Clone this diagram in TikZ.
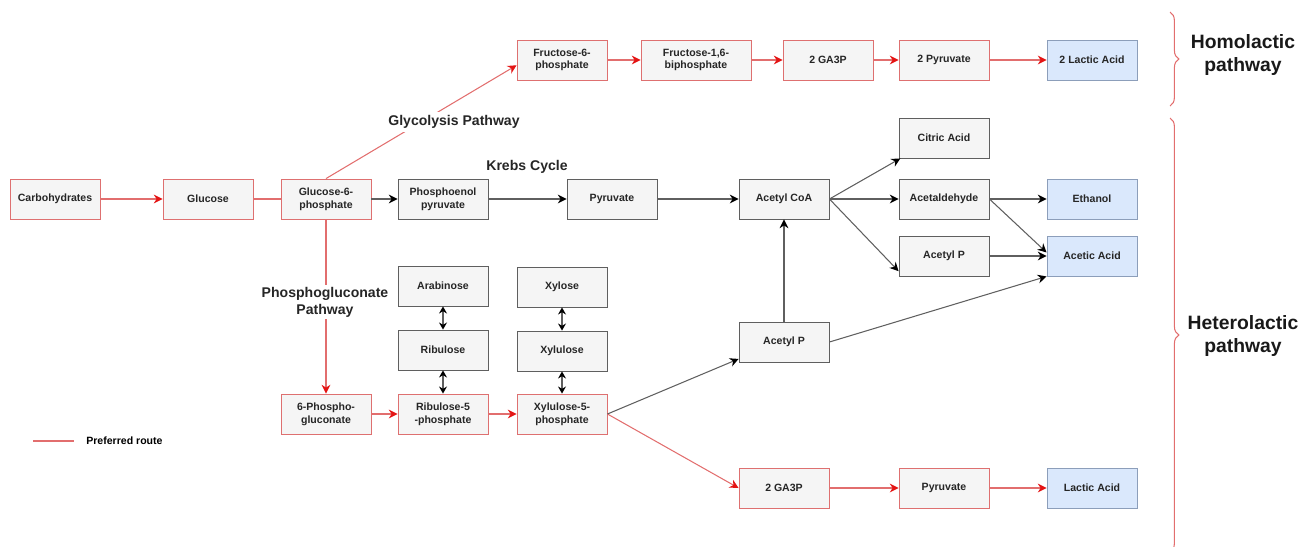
\documentclass[tikz,border=0pt]{standalone}
\usepackage{fontspec}
\setmainfont{Liberation Sans}
\usetikzlibrary{arrows.meta,shadows,decorations.pathreplacing,calc}
\definecolor{redline}{RGB}{226,110,110}
\definecolor{redtip}{RGB}{228,20,20}
\definecolor{redbox}{RGB}{222,112,112}
\definecolor{greyfill}{RGB}{245,245,245}
\definecolor{greyline}{RGB}{95,95,95}
\definecolor{bluefill}{RGB}{218,232,252}
\definecolor{blueline}{RGB}{140,158,186}
\begin{document}
\begin{tikzpicture}[x=0.2mm, y=-0.2mm, font=\fontsize{6pt}{7.2pt}\selectfont\bfseries,
  box/.style={draw=greyline, fill=greyfill, line width=0.5pt, minimum width=18mm, minimum height=8mm, align=center, inner sep=1pt, text=black!85,
    drop shadow={shadow xshift=0.7pt, shadow yshift=-0.7pt, fill=black!40, opacity=0.45}},
  redbox/.style={box, draw=redbox},
  endbox/.style={box, draw=blueline, fill=bluefill},
  redarr/.style={draw=redline, line width=0.6pt, -{Stealth[length=5pt, width=5pt, color=redtip]}},
  blkarr/.style={draw=greyline, line width=0.6pt, -{Stealth[length=5pt, width=5pt, color=black]}},
  twoarr/.style={draw=greyline, line width=0.6pt, {Stealth[length=4pt, width=4.5pt, color=black]}-{Stealth[length=4pt, width=4.5pt, color=black]}},
  lbl/.style={font=\fontsize{8pt}{9.6pt}\selectfont\bfseries, align=center, text=black!85},
  pathlbl/.style={font=\fontsize{11pt}{13pt}\selectfont\bfseries, align=center, text=black!90},
  curly/.style={draw=redline, line width=0.6pt, decorate, decoration={brace, amplitude=5pt}}]
\useasboundingbox (0,0) rectangle (1299,546);
% main row
\node[redbox] (carb) at (55,199) {Carbohydrates};
\node[redbox] (glc) at (208,199) {Glucose};
\node[redbox] (g6p) at (326,199) {Glucose-6-\\phosphate};
\node[box] (pep) at (443,199) {Phosphoenol\\pyruvate};
\node[box] (pyr) at (612,199) {Pyruvate};
\node[box] (acoa) at (784,199) {Acetyl CoA};
\node[box] (cit) at (944,138) {Citric Acid};
\node[box] (ald) at (944,199) {Acetaldehyde};
\node[box] (apr) at (944,256) {Acetyl P};
\node[endbox] (eth) at (1092,199) {Ethanol};
\node[endbox] (ace) at (1092,256) {Acetic Acid};
% homolactic row
\node[redbox] (f6p) at (562,60) {Fructose-6-\\phosphate};
\node[redbox, minimum width=22mm] (fbp) at (696,60) {Fructose-1,6-\\biphosphate};
\node[redbox] (gaa) at (828,60) {2 GA3P};
\node[redbox] (pyra) at (944,60) {2 Pyruvate};
\node[endbox] (laca) at (1092,60) {2 Lactic Acid};
% pentose part
\node[box] (ara) at (443,286) {Arabinose};
\node[box] (rib) at (443,350) {Ribulose};
\node[redbox] (r5p) at (443,414) {Ribulose-5\\-phosphate};
\node[redbox] (pg6) at (326,414) {6-Phospho-\\gluconate};
\node[box] (xyl) at (562,287) {Xylose};
\node[box] (xlu) at (562,351) {Xylulose};
\node[redbox] (x5p) at (562,414) {Xylulose-5-\\phosphate};
\node[box] (apl) at (784,342) {Acetyl P};
\node[redbox] (gab) at (784,488) {2 GA3P};
\node[redbox] (pyrb) at (944,488) {Pyruvate};
\node[endbox] (lacb) at (1092,488) {Lactic Acid};
% preferred route
\draw[redarr] (carb) -- (glc);
\draw[draw=redline, line width=0.6pt] (glc) -- (g6p);
\draw[redarr] (g6p.north) -- ([yshift=-3pt]f6p.west);
\foreach \a/\b in {f6p/fbp, fbp/gaa, gaa/pyra, pyra/laca, pg6/r5p, r5p/x5p, gab/pyrb, pyrb/lacb} {\draw[redarr] (\a) -- (\b);}
\draw[redarr] (g6p) -- (pg6);
\draw[redarr] (x5p.east) -- (gab.west);
% other routes
\foreach \a/\b in {g6p/pep, pep/pyr, pyr/acoa, acoa/ald, ald/eth, apr/ace, apl/acoa} {\draw[blkarr] (\a) -- (\b);}
\draw[blkarr] (acoa.east) -- ([xshift=1pt]cit.south west);
\draw[blkarr] (acoa.east) -- ([yshift=3pt]apr.south west);
\draw[blkarr] (ald.east) -- ([yshift=2pt]ace.west);
\draw[blkarr] (apl.east) -- (ace.south west);
\draw[blkarr] (x5p.east) -- ([yshift=2pt]apl.south west);
\foreach \a/\b in {ara/rib, rib/r5p, xyl/xlu, xlu/x5p} {\draw[twoarr] (\a) -- (\b);}
% labels
\node[lbl, fill=white, inner sep=2pt] (glylbl) at (454,122) {Glycolysis Pathway};
\node[lbl] (krebs) at (527,167) {Krebs Cycle};
\node[lbl, fill=white, inner sep=1pt] (pglbl) at (325,302) {Phosphogluconate\\Pathway};
\draw[curly] (1170,12) -- (1170,106);
\draw[curly] (1170,118) -- (1170,552);
\node[pathlbl] (homo) at (1243,55) {Homolactic\\pathway};
\node[pathlbl] (hetero) at (1243,336) {Heterolactic\\pathway};
% legend
\coordinate (lga) at (33,441);
\coordinate (lgb) at (74,441);
\draw[draw=redline, line width=0.6pt] (lga) -- (lgb);
\node[anchor=west, inner sep=0pt] (lgtxt) at (86,441) {Preferred route};
\end{tikzpicture}
\end{document}
